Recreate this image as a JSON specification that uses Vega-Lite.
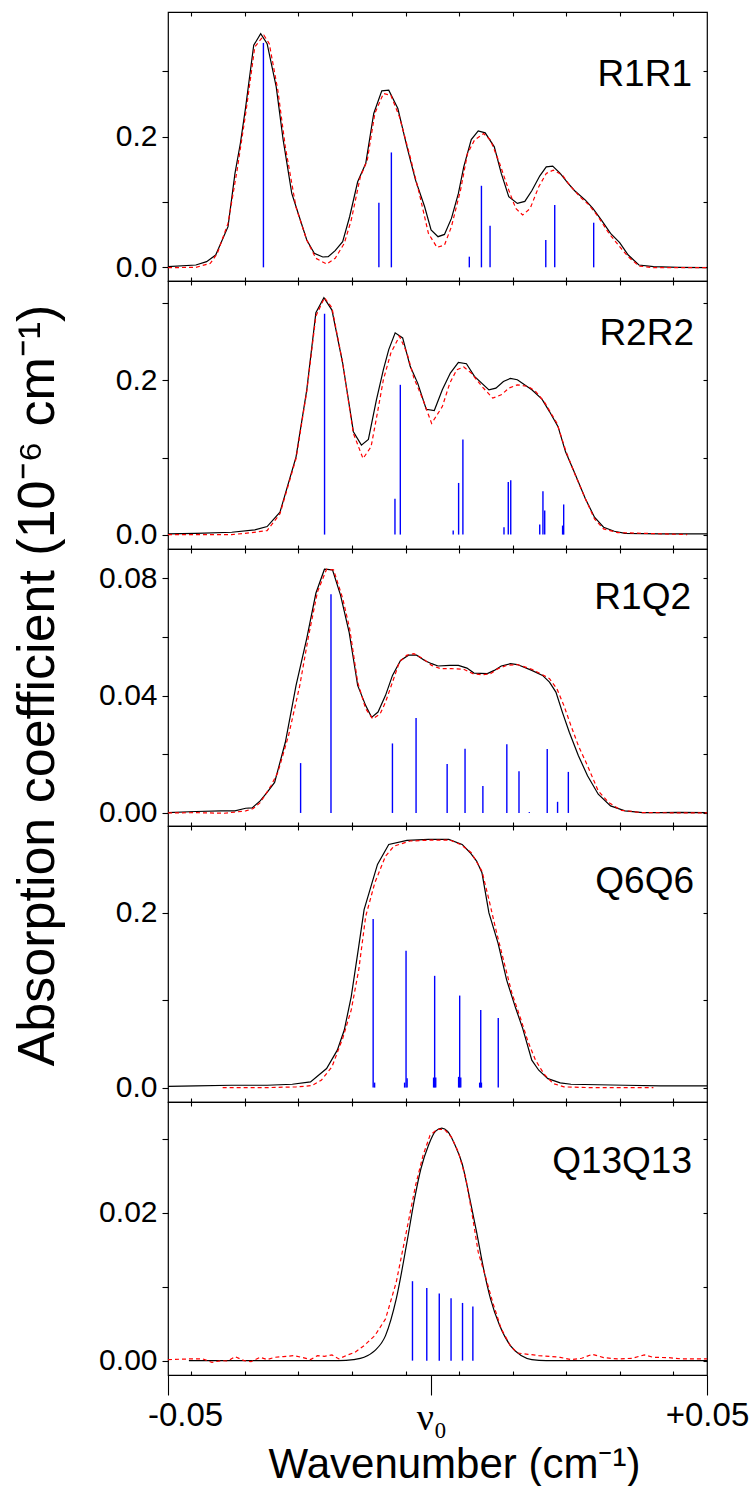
{
  "$schema": "https://vega.github.io/schema/vega-lite/v6.json",
  "background": "white",
  "padding": {"left": 10, "top": 10, "right": 0, "bottom": 0},
  "bounds": "flush",
  "spacing": 0,
  "config": {
    "view": {"stroke": "#000000", "strokeWidth": 1.2},
    "axis": {"grid": false, "domain": false, "tickColor": "#000000", "labelColor": "#000000", "titleColor": "#000000", "labelFont": "Liberation Sans", "titleFont": "Liberation Sans", "labelFontSize": 30, "tickWidth": 1.1, "labelOverlap": false, "labelFlush": false, "labelBound": false, "titleFontWeight": "normal", "labelPadding": 5},
    "title": {"font": "Liberation Sans", "fontSize": 37, "fontWeight": "normal", "color": "#000000", "anchor": "end", "frame": "group", "baseline": "alphabetic"}
  },
  "datasets": {
    "b1": [{"x":-0.05,"y":0.001},{"x":-0.0448,"y":0.0036},{"x":-0.0428,"y":0.0087},{"x":-0.0411,"y":0.0188},{"x":-0.0388,"y":0.0622},{"x":-0.0375,"y":0.1437},{"x":-0.0365,"y":0.1895},{"x":-0.0355,"y":0.2455},{"x":-0.034,"y":0.3398},{"x":-0.0327,"y":0.3576},{"x":-0.0315,"y":0.3423},{"x":-0.0298,"y":0.2761},{"x":-0.0285,"y":0.1946},{"x":-0.0269,"y":0.1131},{"x":-0.0255,"y":0.0774},{"x":-0.0241,"y":0.0418},{"x":-0.0227,"y":0.0214},{"x":-0.0211,"y":0.0158},{"x":-0.0201,"y":0.0163},{"x":-0.0188,"y":0.0255},{"x":-0.0174,"y":0.0392},{"x":-0.0161,"y":0.0774},{"x":-0.0146,"y":0.1309},{"x":-0.0131,"y":0.1589},{"x":-0.0116,"y":0.2354},{"x":-0.0101,"y":0.27},{"x":-0.0088,"y":0.271},{"x":-0.0071,"y":0.243},{"x":-0.0054,"y":0.1844},{"x":-0.0038,"y":0.1335},{"x":-0.0021,"y":0.0927},{"x":-0.0009,"y":0.0571},{"x":0.0004,"y":0.0469},{"x":0.0016,"y":0.0504},{"x":0.0029,"y":0.0749},{"x":0.0042,"y":0.1131},{"x":0.0052,"y":0.1538},{"x":0.0066,"y":0.1956},{"x":0.0079,"y":0.2089},{"x":0.0092,"y":0.2058},{"x":0.0109,"y":0.1844},{"x":0.0122,"y":0.1437},{"x":0.0136,"y":0.108},{"x":0.0152,"y":0.0978},{"x":0.0166,"y":0.1009},{"x":0.0179,"y":0.1172},{"x":0.0194,"y":0.1401},{"x":0.0206,"y":0.1538},{"x":0.0218,"y":0.1549},{"x":0.0232,"y":0.1437},{"x":0.0246,"y":0.1294},{"x":0.0259,"y":0.1172},{"x":0.0279,"y":0.1029},{"x":0.0293,"y":0.0902},{"x":0.0309,"y":0.0723},{"x":0.0326,"y":0.052},{"x":0.0343,"y":0.0377},{"x":0.0359,"y":0.0188},{"x":0.0379,"y":0.0036},{"x":0.0406,"y":0.001},{"x":0.0453,"y":0},{"x":0.0506,"y":-0.0005}],
    "r1": [{"x":-0.05,"y":-0.0005},{"x":-0.0448,"y":0},{"x":-0.0421,"y":0.0061},{"x":-0.0408,"y":0.0214},{"x":-0.0388,"y":0.0672},{"x":-0.0371,"y":0.1488},{"x":-0.0355,"y":0.2354},{"x":-0.0338,"y":0.3372},{"x":-0.0321,"y":0.3551},{"x":-0.0311,"y":0.3423},{"x":-0.0295,"y":0.271},{"x":-0.0281,"y":0.1844},{"x":-0.0261,"y":0.0917},{"x":-0.0241,"y":0.0418},{"x":-0.0224,"y":0.0138},{"x":-0.0204,"y":0.0051},{"x":-0.0188,"y":0.0138},{"x":-0.0171,"y":0.0367},{"x":-0.0158,"y":0.0723},{"x":-0.0141,"y":0.1386},{"x":-0.0128,"y":0.164},{"x":-0.0114,"y":0.2354},{"x":-0.0098,"y":0.2659},{"x":-0.0084,"y":0.2634},{"x":-0.0068,"y":0.2303},{"x":-0.0048,"y":0.1691},{"x":-0.0031,"y":0.1131},{"x":-0.0014,"y":0.052},{"x":0.0002,"y":0.0306},{"x":0.0016,"y":0.0341},{"x":0.0029,"y":0.0622},{"x":0.0046,"y":0.1182},{"x":0.0059,"y":0.1742},{"x":0.0072,"y":0.1946},{"x":0.0089,"y":0.2048},{"x":0.0102,"y":0.1946},{"x":0.0119,"y":0.1589},{"x":0.0136,"y":0.1182},{"x":0.0149,"y":0.0902},{"x":0.0162,"y":0.08},{"x":0.0176,"y":0.0902},{"x":0.0192,"y":0.1233},{"x":0.0206,"y":0.1437},{"x":0.0219,"y":0.1488},{"x":0.0236,"y":0.1411},{"x":0.0252,"y":0.1233},{"x":0.0269,"y":0.108},{"x":0.0286,"y":0.0953},{"x":0.0303,"y":0.0774},{"x":0.0323,"y":0.052},{"x":0.0343,"y":0.0316},{"x":0.0359,"y":0.0163},{"x":0.0379,"y":0.002},{"x":0.0406,"y":-0.0005},{"x":0.0506,"y":-0.0005}],
    "s1": [{"x":-0.03219,"y":0.3434},{"x":-0.01064,"y":0.0988},{"x":-0.00831,"y":0.1758},{"x":0.00624,"y":0.0163},{"x":0.0085,"y":0.1248},{"x":0.01011,"y":0.0637},{"x":0.02051,"y":0.0418},{"x":0.02218,"y":0.0953},{"x":0.02945,"y":0.0683}],
    "b2": [{"x":-0.05,"y":0.0009},{"x":-0.0448,"y":0.0017},{"x":-0.0381,"y":0.003},{"x":-0.0338,"y":0.0061},{"x":-0.0315,"y":0.0104},{"x":-0.0291,"y":0.0291},{"x":-0.0261,"y":0.1009},{"x":-0.0241,"y":0.1878},{"x":-0.0224,"y":0.2878},{"x":-0.0209,"y":0.3074},{"x":-0.0194,"y":0.2913},{"x":-0.0174,"y":0.2226},{"x":-0.0154,"y":0.1335},{"x":-0.0139,"y":0.1161},{"x":-0.0126,"y":0.1235},{"x":-0.0111,"y":0.1748},{"x":-0.0098,"y":0.2139},{"x":-0.0088,"y":0.24},{"x":-0.0076,"y":0.2617},{"x":-0.0062,"y":0.2552},{"x":-0.0048,"y":0.2183},{"x":-0.0034,"y":0.1965},{"x":-0.0018,"y":0.1626},{"x":-0.0003,"y":0.1609},{"x":0.0012,"y":0.1878},{"x":0.0027,"y":0.2096},{"x":0.0042,"y":0.2235},{"x":0.0057,"y":0.2217},{"x":0.0072,"y":0.2052},{"x":0.0099,"y":0.1878},{"x":0.0112,"y":0.19},{"x":0.0126,"y":0.1987},{"x":0.0139,"y":0.2026},{"x":0.0152,"y":0.2009},{"x":0.0179,"y":0.1878},{"x":0.0198,"y":0.1757},{"x":0.0212,"y":0.1596},{"x":0.0228,"y":0.14},{"x":0.0242,"y":0.1074},{"x":0.0259,"y":0.08},{"x":0.0279,"y":0.0465},{"x":0.0296,"y":0.0226},{"x":0.0313,"y":0.0096},{"x":0.0333,"y":0.0043},{"x":0.0353,"y":0.0017},{"x":0.0419,"y":0.0009},{"x":0.0506,"y":0.0009}],
    "r2": [{"x":-0.05,"y":0},{"x":-0.0448,"y":0},{"x":-0.0381,"y":0},{"x":-0.0348,"y":0.0022},{"x":-0.0315,"y":0.0052},{"x":-0.0291,"y":0.027},{"x":-0.0261,"y":0.0987},{"x":-0.0241,"y":0.1857},{"x":-0.0224,"y":0.2835},{"x":-0.0208,"y":0.3074},{"x":-0.0194,"y":0.2943},{"x":-0.0174,"y":0.2226},{"x":-0.0154,"y":0.1313},{"x":-0.0136,"y":0.0987},{"x":-0.0121,"y":0.1139},{"x":-0.0111,"y":0.1509},{"x":-0.0098,"y":0.2009},{"x":-0.0084,"y":0.2357},{"x":-0.0068,"y":0.2574},{"x":-0.0054,"y":0.2357},{"x":-0.0041,"y":0.203},{"x":-0.0024,"y":0.1748},{"x":-0.0008,"y":0.1443},{"x":0.0012,"y":0.1661},{"x":0.0026,"y":0.1965},{"x":0.0039,"y":0.2139},{"x":0.0052,"y":0.2174},{"x":0.0066,"y":0.2096},{"x":0.0086,"y":0.1922},{"x":0.0106,"y":0.177},{"x":0.0122,"y":0.1813},{"x":0.0136,"y":0.19},{"x":0.0152,"y":0.1943},{"x":0.0172,"y":0.1922},{"x":0.0186,"y":0.1857},{"x":0.0202,"y":0.1726},{"x":0.0226,"y":0.1443},{"x":0.0242,"y":0.1096},{"x":0.0259,"y":0.0791},{"x":0.0279,"y":0.0465},{"x":0.0296,"y":0.0204},{"x":0.0313,"y":0.0074},{"x":0.0339,"y":0.0026},{"x":0.0469,"y":0}],
    "s2": [{"x":-0.02078,"y":0.2865},{"x":-0.00764,"y":0.0465},{"x":-0.00664,"y":0.1943},{"x":0.00323,"y":0.0052},{"x":0.00424,"y":0.067},{"x":0.00504,"y":0.1235},{"x":0.01271,"y":0.0096},{"x":0.01351,"y":0.0683},{"x":0.01397,"y":0.0704},{"x":0.01938,"y":0.013},{"x":0.01998,"y":0.0561},{"x":0.02031,"y":0.0313},{"x":0.02365,"y":0.0117},{"x":0.02385,"y":0.0391}],
    "b3": [{"x":-0.05,"y":0.0001},{"x":-0.0448,"y":0.0005},{"x":-0.0401,"y":0.0007},{"x":-0.0375,"y":0.0007},{"x":-0.0355,"y":0.0016},{"x":-0.0343,"y":0.0017},{"x":-0.0328,"y":0.0041},{"x":-0.0315,"y":0.007},{"x":-0.0301,"y":0.0104},{"x":-0.0281,"y":0.0241},{"x":-0.0261,"y":0.0435},{"x":-0.0241,"y":0.0595},{"x":-0.0224,"y":0.0749},{"x":-0.0208,"y":0.0831},{"x":-0.0193,"y":0.0829},{"x":-0.0178,"y":0.0743},{"x":-0.0162,"y":0.0617},{"x":-0.0146,"y":0.0435},{"x":-0.0131,"y":0.0366},{"x":-0.012,"y":0.0326},{"x":-0.0108,"y":0.0344},{"x":-0.0094,"y":0.0401},{"x":-0.0081,"y":0.0469},{"x":-0.0066,"y":0.052},{"x":-0.0051,"y":0.0538},{"x":-0.0036,"y":0.0538},{"x":-0.0021,"y":0.052},{"x":-0.0008,"y":0.0509},{"x":0.0004,"y":0.0501},{"x":0.0026,"y":0.0503},{"x":0.0042,"y":0.0503},{"x":0.0058,"y":0.0494},{"x":0.0071,"y":0.0477},{"x":0.0096,"y":0.0475},{"x":0.0109,"y":0.0486},{"x":0.0122,"y":0.0501},{"x":0.0139,"y":0.0509},{"x":0.0152,"y":0.0506},{"x":0.0179,"y":0.0486},{"x":0.0199,"y":0.0469},{"x":0.0212,"y":0.0446},{"x":0.0224,"y":0.0412},{"x":0.0236,"y":0.0344},{"x":0.0249,"y":0.0275},{"x":0.0266,"y":0.0195},{"x":0.0283,"y":0.0127},{"x":0.0303,"y":0.0064},{"x":0.0326,"y":0.0024},{"x":0.0353,"y":0.0007},{"x":0.0386,"y":0.0001},{"x":0.0419,"y":0.0001},{"x":0.0453,"y":0.0002},{"x":0.0506,"y":0.0001}],
    "r3": [{"x":-0.05,"y":0},{"x":-0.0448,"y":0.0001},{"x":-0.0395,"y":-0.0001},{"x":-0.0355,"y":0.0007},{"x":-0.0341,"y":0.0015},{"x":-0.0328,"y":0.0035},{"x":-0.0308,"y":0.0092},{"x":-0.0295,"y":0.0138},{"x":-0.0275,"y":0.0264},{"x":-0.0254,"y":0.0435},{"x":-0.0238,"y":0.06},{"x":-0.0221,"y":0.0754},{"x":-0.0204,"y":0.0831},{"x":-0.0191,"y":0.0829},{"x":-0.0174,"y":0.0732},{"x":-0.0161,"y":0.0629},{"x":-0.0146,"y":0.0446},{"x":-0.0131,"y":0.0355},{"x":-0.0118,"y":0.0321},{"x":-0.0104,"y":0.0338},{"x":-0.0094,"y":0.0378},{"x":-0.0081,"y":0.0446},{"x":-0.0068,"y":0.0515},{"x":-0.0054,"y":0.0538},{"x":-0.0041,"y":0.0543},{"x":-0.0024,"y":0.0526},{"x":-0.0008,"y":0.0503},{"x":0.0009,"y":0.0492},{"x":0.0029,"y":0.0492},{"x":0.0052,"y":0.049},{"x":0.0069,"y":0.0475},{"x":0.0086,"y":0.0471},{"x":0.0102,"y":0.0475},{"x":0.0116,"y":0.0492},{"x":0.0132,"y":0.0503},{"x":0.0152,"y":0.0506},{"x":0.0179,"y":0.049},{"x":0.0199,"y":0.0471},{"x":0.0212,"y":0.0458},{"x":0.0226,"y":0.0423},{"x":0.0239,"y":0.0366},{"x":0.0252,"y":0.0298},{"x":0.0266,"y":0.0229},{"x":0.0283,"y":0.0161},{"x":0.0303,"y":0.0075},{"x":0.0323,"y":0.0035},{"x":0.0346,"y":0.0009},{"x":0.0386,"y":0.0001},{"x":0.0506,"y":0}],
    "s3": [{"x":-0.02525,"y":0.017},{"x":-0.01958,"y":0.0746},{"x":-0.00811,"y":0.0237},{"x":-0.0037,"y":0.0324},{"x":0.0021,"y":0.0167},{"x":0.00544,"y":0.0219},{"x":0.00877,"y":0.0092},{"x":0.01324,"y":0.0234},{"x":0.01551,"y":0.0142},{"x":0.01744,"y":0.0003},{"x":0.02078,"y":0.0218},{"x":0.02271,"y":0.0038},{"x":0.02472,"y":0.014}],
    "b4": [{"x":-0.05,"y":0.0015},{"x":-0.0448,"y":0.0019},{"x":-0.0381,"y":0.0027},{"x":-0.0315,"y":0.0027},{"x":-0.0268,"y":0.0038},{"x":-0.0234,"y":0.0065},{"x":-0.0204,"y":0.0218},{"x":-0.0184,"y":0.0429},{"x":-0.0171,"y":0.0659},{"x":-0.0158,"y":0.1042},{"x":-0.0144,"y":0.1617},{"x":-0.0134,"y":0.2038},{"x":-0.0121,"y":0.2307},{"x":-0.0109,"y":0.2556},{"x":-0.0088,"y":0.2785},{"x":-0.0054,"y":0.2831},{"x":-0.0014,"y":0.2843},{"x":0.0024,"y":0.2843},{"x":0.0049,"y":0.2785},{"x":0.0064,"y":0.269},{"x":0.0076,"y":0.2594},{"x":0.0086,"y":0.246},{"x":0.0099,"y":0.2},{"x":0.0116,"y":0.1655},{"x":0.0132,"y":0.1234},{"x":0.0149,"y":0.0908},{"x":0.0162,"y":0.0678},{"x":0.0179,"y":0.0314},{"x":0.0192,"y":0.0199},{"x":0.0209,"y":0.0103},{"x":0.0232,"y":0.0054},{"x":0.0252,"y":0.0038},{"x":0.0353,"y":0.0027},{"x":0.0419,"y":0.0019},{"x":0.0506,"y":0.0019}],
    "r4": [{"x":-0.0398,"y":0},{"x":-0.0315,"y":0},{"x":-0.0261,"y":0.0008},{"x":-0.0231,"y":0.0023},{"x":-0.0214,"y":0.0084},{"x":-0.0194,"y":0.0238},{"x":-0.0174,"y":0.0563},{"x":-0.0158,"y":0.0889},{"x":-0.0144,"y":0.1349},{"x":-0.0131,"y":0.1962},{"x":-0.0114,"y":0.2345},{"x":-0.0094,"y":0.2651},{"x":-0.0078,"y":0.2766},{"x":-0.0048,"y":0.2824},{"x":-0.0008,"y":0.2835},{"x":0.0026,"y":0.2835},{"x":0.0046,"y":0.2785},{"x":0.0066,"y":0.269},{"x":0.0086,"y":0.2479},{"x":0.0099,"y":0.2153},{"x":0.0112,"y":0.1808},{"x":0.0126,"y":0.1464},{"x":0.0142,"y":0.108},{"x":0.0159,"y":0.0774},{"x":0.0172,"y":0.0525},{"x":0.0186,"y":0.0314},{"x":0.0202,"y":0.0153},{"x":0.0219,"y":0.0046},{"x":0.0239,"y":0.0008},{"x":0.0286,"y":0},{"x":0.0406,"y":0}],
    "s4": [{"x":-0.01171,"y":0.1931},{"x":-0.00557,"y":0.1567},{"x":-0.00023,"y":0.128},{"x":0.00444,"y":0.1054},{"x":0.00837,"y":0.0889},{"x":0.01164,"y":0.0797},{"x":-0.01144,"y":0.0057},{"x":-0.00584,"y":0.0057},{"x":-0.00537,"y":0.0107},{"x":-0.00043,"y":0.0115},{"x":-0.00003,"y":0.0115},{"x":0.00424,"y":0.0123},{"x":0.00464,"y":0.0115},{"x":0.00817,"y":0.0057},{"x":0.0085,"y":0.0057}],
    "b5": [{"x":-0.0461,"y":0},{"x":-0.0248,"y":0},{"x":-0.0181,"y":0},{"x":-0.0154,"y":0.00014},{"x":-0.0134,"y":0.00045},{"x":-0.0114,"y":0.00135},{"x":-0.0094,"y":0.00338},{"x":-0.0074,"y":0.00834},{"x":-0.0054,"y":0.01601},{"x":-0.0041,"y":0.02143},{"x":-0.0028,"y":0.02594},{"x":-0.0014,"y":0.02909},{"x":-0.0001,"y":0.03099},{"x":0.0011,"y":0.03144},{"x":0.0022,"y":0.03099},{"x":0.0036,"y":0.02909},{"x":0.0049,"y":0.02661},{"x":0.0062,"y":0.02233},{"x":0.0076,"y":0.01737},{"x":0.0089,"y":0.0124},{"x":0.0102,"y":0.00834},{"x":0.0119,"y":0.00474},{"x":0.0139,"y":0.00203},{"x":0.0159,"y":0.00068},{"x":0.0179,"y":0.00014},{"x":0.0206,"y":0},{"x":0.0506,"y":0}],
    "r5": [{"x":-0.05,"y":0.00014},{"x":-0.0461,"y":0.00023},{"x":-0.0435,"y":0.00023},{"x":-0.0418,"y":-0.00023},{"x":-0.0401,"y":0},{"x":-0.0388,"y":-0.00005},{"x":-0.0375,"y":0.00054},{"x":-0.0358,"y":0},{"x":-0.0345,"y":-0.00014},{"x":-0.0328,"y":0.00045},{"x":-0.0315,"y":0.00014},{"x":-0.0301,"y":0.00045},{"x":-0.0285,"y":0.00054},{"x":-0.0265,"y":0.00068},{"x":-0.0248,"y":0.00041},{"x":-0.0234,"y":0.00014},{"x":-0.0221,"y":0.00068},{"x":-0.0208,"y":0.00059},{"x":-0.0194,"y":0.00077},{"x":-0.0181,"y":0.00023},{"x":-0.0168,"y":0.00068},{"x":-0.0151,"y":0.00113},{"x":-0.0134,"y":0.00203},{"x":-0.0114,"y":0.00338},{"x":-0.0094,"y":0.00564},{"x":-0.0074,"y":0.0106},{"x":-0.0054,"y":0.01782},{"x":-0.0038,"y":0.02368},{"x":-0.0024,"y":0.02774},{"x":-0.0011,"y":0.03045},{"x":0.0002,"y":0.03126},{"x":0.0016,"y":0.03126},{"x":0.0029,"y":0.03022},{"x":0.0042,"y":0.02819},{"x":0.0056,"y":0.02458},{"x":0.0069,"y":0.01917},{"x":0.0079,"y":0.01466},{"x":0.0092,"y":0.0115},{"x":0.0106,"y":0.00789},{"x":0.0122,"y":0.00429},{"x":0.0139,"y":0.00203},{"x":0.0152,"y":0.00104},{"x":0.0172,"y":0.00086},{"x":0.0192,"y":0.00068},{"x":0.0212,"y":0.00059},{"x":0.0232,"y":0.00045},{"x":0.0252,"y":0.00014},{"x":0.0272,"y":0.00032},{"x":0.0292,"y":0.00086},{"x":0.0313,"y":0.00041},{"x":0.0339,"y":0.00023},{"x":0.0366,"y":0.00032},{"x":0.0389,"y":0.00077},{"x":0.0406,"y":0.00045},{"x":0.0433,"y":0.00041},{"x":0.0459,"y":0.00023},{"x":0.0486,"y":0.00023},{"x":0.0506,"y":0.00023}],
    "s5": [{"x":-0.00437,"y":0.01074},{"x":-0.0017,"y":0.00983},{"x":0.00063,"y":0.00907},{"x":0.00283,"y":0.00843},{"x":0.00497,"y":0.0078},{"x":0.0069,"y":0.00731}]
  },
  "vconcat": [
    {
      "width": 539, "height": 269,
      "title": {"text": "R1R1", "offset": -83, "dx": -15},
      "layer": [
        {"data": {"name": "s1"}, "mark": {"type": "rule", "color": "#0000ff", "strokeWidth": 1.4},
         "encoding": {"x": {"field": "x", "type": "quantitative", "scale": {"domain": [-0.05, 0.0506], "nice": false, "zero": false}, "axis": null},
                      "y": {"field": "y", "type": "quantitative", "scale": {"domain": [-0.0209, 0.3907], "nice": false, "zero": false}, "axis": null},
                      "y2": {"datum": 0}}},
        {"data": {"name": "b1"}, "mark": {"type": "line", "color": "#000000", "strokeWidth": 1.2},
         "encoding": {"x": {"field": "x", "type": "quantitative", "axis": {"orient": "bottom", "values": [-0.04567,-0.03567,-0.02567,-0.01567,-0.00567,0.00433,0.01433,0.02433,0.03433,0.04433], "labels": false, "tickSize": -4, "title": null}},
                      "y": {"field": "y", "type": "quantitative", "axis": {"orient": "left", "values": [0, 0.1, 0.2, 0.3], "tickSize": 6, "labelExpr": "round(datum.value*10) % 2 == 0 ? format(datum.value, '.1f') : ''",
                        "title": "Absorption coefficient (10⁻⁶ cm⁻¹)", "titleFontSize": 52, "titleAngle": -90, "titleX": -115, "titleY": 673, "titleBaseline": "alphabetic", "titleAlign": "center"}}}},
        {"data": {"name": "r1"}, "mark": {"type": "line", "color": "#ff0000", "strokeWidth": 1.2, "strokeDash": [4, 3]},
         "encoding": {"x": {"field": "x", "type": "quantitative", "axis": {"orient": "top", "values": [-0.04567,-0.03567,-0.02567,-0.01567,-0.00567,0.00433,0.01433,0.02433,0.03433,0.04433], "labels": false, "tickSize": -4, "title": null}},
                      "y": {"field": "y", "type": "quantitative", "axis": {"orient": "right", "values": [0, 0.1, 0.2, 0.3], "labels": false, "tickSize": -4, "title": null}}}}
      ],
      "resolve": {"axis": {"x": "independent", "y": "independent"}}
    },
    {
      "width": 539, "height": 268,
      "title": {"text": "R2R2", "offset": -73, "dx": -13},
      "layer": [
        {"data": {"name": "s2"}, "mark": {"type": "rule", "color": "#0000ff", "strokeWidth": 1.4},
         "encoding": {"x": {"field": "x", "type": "quantitative", "scale": {"domain": [-0.05, 0.0506], "nice": false, "zero": false}, "axis": null},
                      "y": {"field": "y", "type": "quantitative", "scale": {"domain": [-0.0187, 0.329], "nice": false, "zero": false}, "axis": null},
                      "y2": {"datum": 0}}},
        {"data": {"name": "b2"}, "mark": {"type": "line", "color": "#000000", "strokeWidth": 1.2},
         "encoding": {"x": {"field": "x", "type": "quantitative", "axis": {"orient": "bottom", "values": [-0.04567,-0.03567,-0.02567,-0.01567,-0.00567,0.00433,0.01433,0.02433,0.03433,0.04433], "labels": false, "tickSize": -4, "title": null}},
                      "y": {"field": "y", "type": "quantitative", "axis": {"orient": "left", "values": [0, 0.1, 0.2, 0.3], "tickSize": 6, "labelExpr": "round(datum.value*10) % 2 == 0 ? format(datum.value, '.1f') : ''", "title": null}}}},
        {"data": {"name": "r2"}, "mark": {"type": "line", "color": "#ff0000", "strokeWidth": 1.2, "strokeDash": [4, 3]},
         "encoding": {"x": {"field": "x", "type": "quantitative", "axis": {"orient": "top", "values": [-0.04567,-0.03567,-0.02567,-0.01567,-0.00567,0.00433,0.01433,0.02433,0.03433,0.04433], "labels": false, "tickSize": -4, "title": null}},
                      "y": {"field": "y", "type": "quantitative", "axis": {"orient": "right", "values": [0, 0.1, 0.2, 0.3], "labels": false, "tickSize": -4, "title": null}}}}
      ],
      "resolve": {"axis": {"x": "independent", "y": "independent"}}
    },
    {
      "width": 539, "height": 277,
      "title": {"text": "R1Q2", "offset": -69, "dx": -16},
      "layer": [
        {"data": {"name": "s3"}, "mark": {"type": "rule", "color": "#0000ff", "strokeWidth": 1.4},
         "encoding": {"x": {"field": "x", "type": "quantitative", "scale": {"domain": [-0.05, 0.0506], "nice": false, "zero": false}, "axis": null},
                      "y": {"field": "y", "type": "quantitative", "scale": {"domain": [-0.00445, 0.09], "nice": false, "zero": false}, "axis": null},
                      "y2": {"datum": 0}}},
        {"data": {"name": "b3"}, "mark": {"type": "line", "color": "#000000", "strokeWidth": 1.2},
         "encoding": {"x": {"field": "x", "type": "quantitative", "axis": {"orient": "bottom", "values": [-0.04567,-0.03567,-0.02567,-0.01567,-0.00567,0.00433,0.01433,0.02433,0.03433,0.04433], "labels": false, "tickSize": -4, "title": null}},
                      "y": {"field": "y", "type": "quantitative", "axis": {"orient": "left", "values": [0, 0.02, 0.04, 0.06, 0.08], "tickSize": 6, "labelExpr": "round(datum.value*100) % 4 == 0 ? format(datum.value, '.2f') : ''", "title": null}}}},
        {"data": {"name": "r3"}, "mark": {"type": "line", "color": "#ff0000", "strokeWidth": 1.2, "strokeDash": [4, 3]},
         "encoding": {"x": {"field": "x", "type": "quantitative", "axis": {"orient": "top", "values": [-0.04567,-0.03567,-0.02567,-0.01567,-0.00567,0.00433,0.01433,0.02433,0.03433,0.04433], "labels": false, "tickSize": -4, "title": null}},
                      "y": {"field": "y", "type": "quantitative", "axis": {"orient": "right", "values": [0, 0.02, 0.04, 0.06, 0.08], "labels": false, "tickSize": -4, "title": null}}}}
      ],
      "resolve": {"axis": {"x": "independent", "y": "independent"}}
    },
    {
      "width": 539, "height": 276,
      "title": {"text": "Q6Q6", "offset": -76, "dx": -13},
      "layer": [
        {"data": {"name": "s4"}, "mark": {"type": "rule", "color": "#0000ff", "strokeWidth": 1.4},
         "encoding": {"x": {"field": "x", "type": "quantitative", "scale": {"domain": [-0.05, 0.0506], "nice": false, "zero": false}, "axis": null},
                      "y": {"field": "y", "type": "quantitative", "scale": {"domain": [-0.0165, 0.2996], "nice": false, "zero": false}, "axis": null},
                      "y2": {"datum": 0}}},
        {"data": {"name": "b4"}, "mark": {"type": "line", "color": "#000000", "strokeWidth": 1.2},
         "encoding": {"x": {"field": "x", "type": "quantitative", "axis": {"orient": "bottom", "values": [-0.04567,-0.03567,-0.02567,-0.01567,-0.00567,0.00433,0.01433,0.02433,0.03433,0.04433], "labels": false, "tickSize": -4, "title": null}},
                      "y": {"field": "y", "type": "quantitative", "axis": {"orient": "left", "values": [0, 0.1, 0.2], "tickSize": 6, "labelExpr": "round(datum.value*10) % 2 == 0 ? format(datum.value, '.1f') : ''", "title": null}}}},
        {"data": {"name": "r4"}, "mark": {"type": "line", "color": "#ff0000", "strokeWidth": 1.2, "strokeDash": [4, 3]},
         "encoding": {"x": {"field": "x", "type": "quantitative", "axis": {"orient": "top", "values": [-0.04567,-0.03567,-0.02567,-0.01567,-0.00567,0.00433,0.01433,0.02433,0.03433,0.04433], "labels": false, "tickSize": -4, "title": null}},
                      "y": {"field": "y", "type": "quantitative", "axis": {"orient": "right", "values": [0, 0.1, 0.2], "labels": false, "tickSize": -4, "title": null}}}}
      ],
      "resolve": {"axis": {"x": "independent", "y": "independent"}}
    },
    {
      "width": 539, "height": 273,
      "title": {"text": "Q13Q13", "offset": -80, "dx": -15},
      "layer": [
        {"data": {"name": "s5"}, "mark": {"type": "rule", "color": "#0000ff", "strokeWidth": 1.4},
         "encoding": {"x": {"field": "x", "type": "quantitative", "scale": {"domain": [-0.05, 0.0506], "nice": false, "zero": false},
                        "axis": {"orient": "bottom", "values": [-0.05, -0.00084, 0.0506], "tickSize": 20, "labelPadding": 4,
                          "labelFontSize": {"condition": {"test": "abs(datum.value) < 0.01", "value": 38}, "value": 33},
                          "labelExpr": "datum.value < -0.04 ? '-0.05' : (datum.value > 0.04 ? '+0.05' : 'ν₀')",
                          "labelFont": {"condition": {"test": "abs(datum.value) < 0.01", "value": "Liberation Serif"}, "value": "Liberation Sans"},
                          "labelOffset": {"condition": {"test": "datum.value < -0.04", "value": 17}, "value": 0},
                          "title": "Wavenumber (cm⁻¹)", "titleFontSize": 42, "titleX": 286, "titleY": 102, "titleBaseline": "alphabetic", "titleAlign": "center"}},
                      "y": {"field": "y", "type": "quantitative", "scale": {"domain": [-0.00194, 0.03496], "nice": false, "zero": false}, "axis": null},
                      "y2": {"datum": 0}}},
        {"data": {"name": "b5"}, "mark": {"type": "line", "color": "#000000", "strokeWidth": 1.2, "interpolate": "monotone"},
         "encoding": {"x": {"field": "x", "type": "quantitative", "axis": {"orient": "bottom", "values": [-0.04567,-0.03567,-0.02567,-0.01567,-0.00567,0.00433,0.01433,0.02433,0.03433,0.04433], "labels": false, "tickSize": -4, "title": null}},
                      "y": {"field": "y", "type": "quantitative", "axis": {"orient": "left", "values": [0, 0.01, 0.02, 0.03], "tickSize": 6, "labelExpr": "round(datum.value*100) % 2 == 0 ? format(datum.value, '.2f') : ''", "title": null}}}},
        {"data": {"name": "r5"}, "mark": {"type": "line", "color": "#ff0000", "strokeWidth": 1.2, "strokeDash": [4, 3]},
         "encoding": {"x": {"field": "x", "type": "quantitative", "axis": {"orient": "top", "values": [-0.04567,-0.03567,-0.02567,-0.01567,-0.00567,0.00433,0.01433,0.02433,0.03433,0.04433], "labels": false, "tickSize": -4, "title": null}},
                      "y": {"field": "y", "type": "quantitative", "axis": {"orient": "right", "values": [0, 0.01, 0.02, 0.03], "labels": false, "tickSize": -4, "title": null}}}}
      ],
      "resolve": {"axis": {"x": "independent", "y": "independent"}}
    }
  ]
}
